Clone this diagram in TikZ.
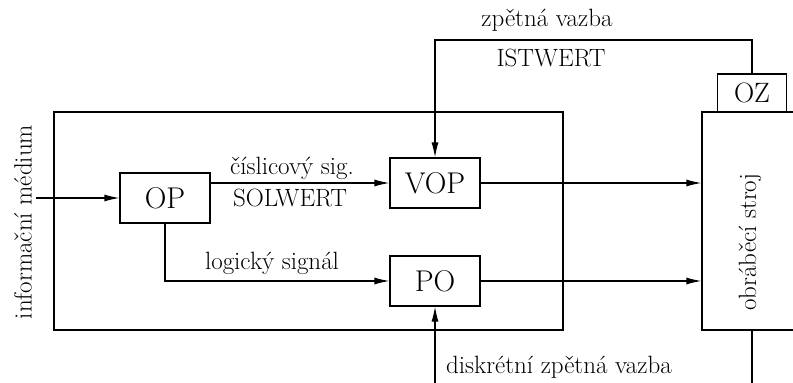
\documentclass[tikz,border=0pt]{standalone}
\usetikzlibrary{arrows.meta,positioning}

\begin{document}
\begin{tikzpicture}[x=1pt, y=-1pt, >={Latex[length=15pt,width=7pt]},
    blok/.style={rectangle, draw, line width=1.2pt, minimum width=90pt, minimum height=50pt, inner sep=0pt, font=\fontsize{30}{34}\selectfont},
    popis/.style={inner sep=1pt, font=\fontsize{25}{29}\selectfont},
    sipka/.style={->, line width=1.2pt},
    spoj/.style={line width=1.2pt}]

    \useasboundingbox (0,0) rectangle (793,383);
    \clip (0,0) rectangle (793,383);

    % Control unit
    \node[draw, line width=1.2pt, minimum width=509pt, minimum height=218pt] (ridici) at (308.5,221) {};
    \node[blok] (OP) at (165,198) {OP};
    \node[blok] (VOP) at (435,183) {VOP};
    \node[blok] (PO) at (435,281) {PO};

    % Machine
    \node[draw, line width=1.2pt, minimum width=96pt, minimum height=218pt] (stroj) at (750,221) {};
    \node[popis, rotate=90] (strojtext) at (750,242) {obráběcí stroj};
    \node[blok, minimum width=69pt, minimum height=38pt, font=\fontsize{28}{32}\selectfont] (OZ) at (752,93) {OZ};

    % Free ends
    \coordinate (vstup) at (36,198);
    \coordinate (vazba) at (752,40);
    \coordinate (diskr) at (435,383);
    \coordinate (dole) at (752,383);

    \draw[sipka] (vstup) -- (OP.west);
    \draw[sipka] ([yshift=15pt]OP.east) -- (VOP.west);
    \draw[sipka] (OP.south) |- (PO.west);
    \draw[sipka] (VOP.east) -- (VOP.east -| stroj.west);
    \draw[sipka] (PO.east) -- (PO.east -| stroj.west);
    \draw[sipka] (OZ.north) -- (vazba) -| (VOP.north);
    \draw[sipka] (diskr) -- (PO.south);
    \draw[spoj] (OZ.north |- stroj.south) -- (dole);

    % Labels
    \node[popis, rotate=90] (medium) at (23,222) {informační médium};
    \node[popis] (cislicovy) at (292,168) {číslicový sig.};
    \node[popis] (solwert) at (290,198) {SOLWERT};
    \node[popis] (logicky) at (272,263) {logický signál};
    \node[popis] (zpetna) at (547,20) {zpětná vazba};
    \node[popis] (istwert) at (551,58) {ISTWERT};
    \node[popis, anchor=west] (diskretni) at (445,367) {diskrétní zpětná vazba};

\end{tikzpicture}
\end{document}
